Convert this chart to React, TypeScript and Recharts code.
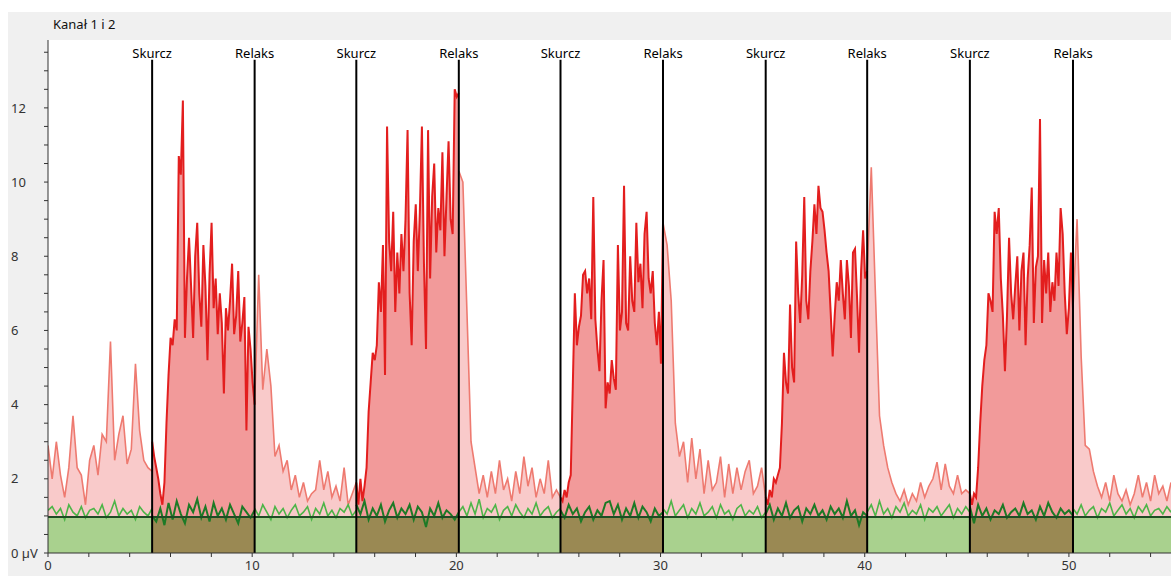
import React from 'react';
import { ComposedChart, Area, Line, XAxis, YAxis, ReferenceLine } from 'recharts';

const FONT = '"Noto Sans", "DejaVu Sans", sans-serif';

const skurczTimes = [5.1, 15.1, 25.1, 35.15, 45.15];
const relaksTimes = [10.12, 20.12, 30.12, 40.12, 50.2];
const X_MAX = 55;
const Y_MAX = 13.83;
const THRESHOLD = 0.97;
const MARKER_TOP = 13.3;

const xTicks = [0, 2, 4, 6, 8, 10, 12, 14, 16, 18, 20, 22, 24, 26, 28, 30, 32, 34, 36, 38, 40, 42, 44, 46, 48, 50, 52, 54];
const xLabelled = [0, 10, 20, 30, 40, 50];
const yTicks = [0, 0.5, 1, 1.5, 2, 2.5, 3, 3.5, 4, 4.5, 5, 5.5, 6, 6.5, 7, 7.5, 8, 8.5, 9, 9.5, 10, 10.5, 11, 11.5, 12, 12.5, 13, 13.5];
const yLabelled = [0, 2, 4, 6, 8, 10, 12];

// Channel 1 (red) — rest phases
const redRest0 = [2.9, 2.0, 3.0, 2.1, 1.5, 2.3, 3.7, 2.3, 2.1, 1.3, 2.5, 2.9, 2.1, 3.2, 3.0, 5.7, 2.5, 3.2, 3.7, 2.4, 2.8, 5.1, 3.3, 2.5, 2.3, 2.2];
const redRest1 = [4.0, 7.5, 4.4, 5.5, 4.5, 2.6, 2.9, 2.2, 2.5, 1.7, 2.1, 1.5, 1.9, 1.4, 1.6, 1.7, 2.5, 1.7, 2.2, 1.5, 1.8, 1.4, 2.3, 1.3, 1.6, 1.9];
const redRest2 = [10.3, 10.0, 6.5, 3.0, 2.3, 1.6, 2.1, 1.5, 2.2, 1.6, 2.5, 1.7, 2.0, 1.4, 2.2, 1.6, 2.6, 1.8, 2.3, 1.5, 2.0, 1.6, 2.5, 1.5, 1.7, 1.5];
const redRest3 = [8.9, 8.3, 6.8, 3.5, 2.6, 3.0, 1.9, 3.1, 2.0, 2.8, 1.6, 2.5, 1.7, 1.9, 2.6, 1.5, 2.4, 1.6, 2.3, 1.7, 2.2, 2.5, 1.6, 1.8, 2.3, 1.5];
const redRest4 = [7.6, 10.4, 7.0, 3.7, 2.9, 2.3, 1.9, 1.6, 1.4, 1.7, 1.3, 1.6, 1.4, 1.9, 1.5, 1.8, 2.0, 2.45, 1.7, 2.4, 1.8, 1.6, 2.1, 1.6, 1.7, 1.6];
const redRest5 = [6.6, 9.0, 5.3, 2.9, 2.8, 2.2, 1.8, 1.5, 1.9, 1.4, 2.1, 1.6, 1.4, 1.7, 1.3, 1.6, 2.1, 1.5, 1.9, 1.4, 2.1, 1.6, 1.8, 1.4, 1.9];

// Channel 1 (red) — contraction phases
const redAct1 = [3.0, 2.6, 2.3, 2.0, 1.6, 1.3, 1.9, 3.5, 4.8, 5.8,
  5.6, 6.3, 6.0, 10.7, 10.2, 12.2, 5.8, 7.4, 8.5, 7.2,
  5.8, 8.0, 8.9, 7.0, 6.1, 8.3, 7.2, 5.2, 7.5, 8.9,
  6.6, 7.4, 5.9, 7.0, 6.2, 4.3, 6.6, 6.0, 6.8, 7.8,
  5.9, 6.4, 7.6, 5.7, 6.2, 6.9, 3.3, 6.1, 5.5, 4.6,
  4.0];
const redAct2 = [1.9, 1.3, 2.0, 1.4, 1.8, 2.3, 3.8, 4.6, 5.4, 5.2,
  5.6, 7.3, 6.5, 8.3, 4.8, 11.5, 8.4, 7.6, 9.2, 6.5,
  8.1, 7.0, 8.6, 7.6, 9.0, 11.4, 7.0, 5.6, 8.4, 9.4,
  7.6, 9.2, 11.5, 7.8, 5.5, 11.4, 7.4, 9.6, 10.5, 8.1,
  9.3, 8.7, 10.8, 8.0, 9.6, 11.1, 9.0, 8.6, 12.5, 12.3,
  12.4];
const redAct3 = [1.5, 1.4, 1.7, 1.5, 1.9, 2.1, 4.5, 7.0, 5.6, 6.1,
  6.4, 7.5, 7.6, 7.0, 7.4, 6.3, 9.6, 6.3, 5.5, 4.9,
  6.8, 7.9, 3.9, 4.6, 4.3, 5.2, 4.7, 4.4, 8.3, 6.0,
  6.5, 9.9, 6.2, 6.0, 8.0, 6.8, 6.5, 8.9, 7.3, 7.8,
  6.6, 8.6, 9.2, 7.4, 7.0, 7.6, 6.2, 5.6, 6.5, 5.1,
  8.9];
const redAct4 = [1.5, 1.3, 1.7, 1.5, 2.0, 1.9, 2.1, 2.3, 3.5, 5.4,
  4.6, 4.3, 6.7, 5.0, 4.6, 8.4, 7.0, 6.2, 7.5, 9.6,
  6.8, 6.3, 7.6, 8.4, 9.4, 8.6, 9.9, 9.3, 9.2, 8.7,
  8.1, 7.6, 6.5, 5.3, 6.4, 7.3, 6.8, 7.9, 7.0, 6.3,
  7.9, 7.2, 5.8, 8.1, 8.2, 6.9, 5.4, 7.6, 8.7, 7.4,
  7.6];
const redAct5 = [1.6, 1.3, 1.6, 1.5, 2.3, 3.5, 4.5, 5.2, 5.6, 7.0,
  6.8, 6.5, 9.2, 8.6, 9.3, 7.4, 6.4, 4.9, 6.4, 8.5,
  7.0, 6.3, 7.2, 8.0, 6.0, 7.6, 8.1, 5.6, 7.4, 8.3,
  9.85, 6.2, 7.7, 8.0, 11.7, 6.2, 7.9, 7.0, 8.1, 6.5,
  7.3, 6.8, 8.1, 7.2, 9.3, 8.6, 7.0, 5.9, 6.6, 8.1,
  6.6];

// Channel 2 (green)
const greenRest0 = [1.15, 1.25, 1.05, 1.2, 0.9, 1.3, 1.1, 1.0, 1.25, 0.95, 1.15, 1.2, 1.05, 1.3, 0.95, 1.1, 1.4, 1.0, 1.2, 1.05, 1.15, 0.9, 1.25, 1.1, 1.0, 1.2];
const greenRest1 = [1.2, 1.0, 1.3, 1.1, 0.9, 1.25, 1.05, 1.2, 0.95, 1.15, 1.3, 1.0, 1.1, 1.25, 0.9, 1.2, 1.05, 1.35, 1.0, 1.15, 0.95, 1.2, 1.1, 1.3, 1.0, 1.15];
const greenRest2 = [1.1, 1.25, 1.0, 1.35, 1.05, 1.45, 0.95, 1.2, 1.1, 1.3, 0.9, 1.15, 1.25, 1.0, 1.3, 1.1, 0.95, 1.2, 1.05, 1.35, 1.0, 1.15, 1.25, 0.95, 1.1, 1.2];
const greenRest3 = [1.2, 1.05, 1.4, 1.0, 1.15, 1.3, 0.95, 1.2, 1.05, 1.35, 1.0, 1.1, 1.25, 0.95, 1.3, 1.05, 1.15, 0.9, 1.2, 1.3, 1.0, 1.15, 1.05, 1.25, 0.95, 1.1];
const greenRest4 = [1.1, 1.3, 1.0, 1.4, 1.05, 1.2, 0.95, 1.25, 1.1, 1.35, 1.0, 1.15, 1.05, 1.3, 0.9, 1.2, 1.1, 1.25, 1.0, 1.15, 1.3, 0.95, 1.2, 1.05, 1.25, 1.1];
const greenRest5 = [1.2, 1.05, 1.3, 1.0, 1.15, 1.25, 0.95, 1.2, 1.1, 1.35, 1.0, 1.15, 1.3, 1.05, 1.2, 0.95, 1.25, 1.1, 1.3, 1.0, 1.15, 1.2, 1.05, 1.25, 1.1];
const greenAct1 = [1.0, 0.85, 1.2, 0.75, 1.35, 0.9, 1.4, 1.05, 0.8, 1.3, 1.1, 1.45, 0.95, 1.25, 0.85, 1.35, 1.0, 1.2, 0.9, 1.3, 1.05, 0.8, 1.25, 1.1, 0.95, 1.15];
const greenAct2 = [1.3, 1.05, 1.4, 0.9, 1.2, 1.0, 1.3, 0.85, 1.15, 1.35, 0.95, 1.2, 1.05, 1.3, 0.9, 1.25, 1.1, 0.7, 1.2, 1.0, 1.35, 0.95, 1.15, 1.05, 0.9, 1.1];
const greenAct3 = [1.15, 0.95, 1.3, 1.05, 1.2, 0.85, 1.1, 1.25, 0.9, 1.15, 1.0, 1.35, 1.4, 1.05, 1.3, 0.9, 1.2, 1.0, 1.35, 0.95, 1.25, 1.1, 0.85, 1.2, 1.0, 1.1];
const greenAct4 = [1.05, 1.3, 0.9, 1.2, 1.0, 1.35, 0.95, 1.15, 1.25, 0.85, 1.2, 1.05, 1.3, 1.0, 1.15, 0.9, 1.25, 1.05, 1.2, 0.95, 1.4, 1.0, 1.15, 0.75, 1.1, 1.0];
const greenAct5 = [1.25, 0.8, 1.3, 1.0, 1.2, 0.9, 1.15, 1.05, 1.3, 0.95, 1.1, 1.2, 1.0, 1.35, 1.05, 1.15, 0.9, 1.25, 1.0, 1.35, 1.1, 0.95, 1.2, 1.05, 1.15, 1.0];

const redRest = [redRest0, redRest1, redRest2, redRest3, redRest4, redRest5];
const redAct = [redAct1, redAct2, redAct3, redAct4, redAct5];
const greenRest = [greenRest0, greenRest1, greenRest2, greenRest3, greenRest4, greenRest5];
const greenAct = [greenAct1, greenAct2, greenAct3, greenAct4, greenAct5];

const restRanges: [number, number][] = [0, ...relaksTimes].map((s, i) => [s, i < skurczTimes.length ? skurczTimes[i] : X_MAX]);
const actRanges: [number, number][] = skurczTimes.map((s, i) => [s, relaksTimes[i]]);

const seg = (vals: number[], a: number, b: number, key: string) =>
  vals.map((v, i) => ({ t: a + ((b - a) * i) / (vals.length - 1), [key]: v }));

const YTick = (props: any) => {
  const { y, payload } = props;
  const v = payload.value;
  if (!yLabelled.includes(v)) return <g />;
  return (
    <text x={3} y={y} dy="0.36em" fontSize={13} fill="#333" fontFamily={FONT} textAnchor="start">
      {v === 0 ? '0 µV' : String(v)}
    </text>
  );
};

const XTick = (props: any) => {
  const { x, payload } = props;
  const v = payload.value;
  if (!xLabelled.includes(v)) return <g />;
  return (
    <text x={x} y={558} fontSize={13} fill="#333" fontFamily={FONT} textAnchor="middle">
      {String(v)}
    </text>
  );
};

export default function App() {
  return (
    <div style={{ position: 'absolute', left: 0, top: 0, width: 1171, height: 576, background: '#fff', overflow: 'hidden' }}>
      <div style={{ position: 'absolute', left: 8, top: 12, width: 1163, height: 564, background: '#f0f0f0' }}>
        <div style={{ position: 'absolute', left: 40, top: 28, width: 1123, height: 513, background: '#fff' }} />
        <div style={{ position: 'absolute', left: 45, top: 3, fontFamily: FONT, fontSize: 13, color: '#111', lineHeight: '18px' }}>
          Kanał 1 i 2
        </div>
        <div style={{ position: 'absolute', left: 0, top: 0 }}>
          <ComposedChart width={1163} height={564} margin={{ top: 28, right: 0, bottom: 0, left: 0 }}>
            <XAxis
              type="number"
              dataKey="t"
              domain={[0, X_MAX]}
              ticks={xTicks}
              interval={0}
              allowDataOverflow
              height={23}
              tickSize={4}
              stroke="#333"
              tick={<XTick />}
            />
            <YAxis
              type="number"
              domain={[0, Y_MAX]}
              ticks={yTicks}
              interval={0}
              allowDataOverflow
              width={40}
              tickSize={4}
              stroke="#333"
              tick={<YTick />}
            />
            {restRanges.map((r, i) => (
              <Area
                key={'rr' + i}
                data={seg(redRest[i], r[0], r[1], 'rr' + i)}
                dataKey={'rr' + i}
                type="linear"
                stroke="#ee7a70"
                strokeWidth={1.6}
                fill="#f9caca"
                fillOpacity={1}
                dot={false}
                activeDot={false}
                isAnimationActive={false}
              />
            ))}
            {actRanges.map((r, i) => (
              <Area
                key={'ra' + i}
                data={seg(redAct[i], r[0], r[1], 'ra' + i)}
                dataKey={'ra' + i}
                type="linear"
                stroke="#e31e1e"
                strokeWidth={2}
                fill="#f29a9a"
                fillOpacity={1}
                dot={false}
                activeDot={false}
                isAnimationActive={false}
              />
            ))}
            {restRanges.map((r, i) => (
              <Area
                key={'gf' + i}
                data={seg([THRESHOLD, THRESHOLD], r[0], r[1], 'gf' + i)}
                dataKey={'gf' + i}
                type="linear"
                stroke="none"
                fill="#a9d18e"
                fillOpacity={1}
                dot={false}
                activeDot={false}
                isAnimationActive={false}
              />
            ))}
            {actRanges.map((r, i) => (
              <Area
                key={'gfa' + i}
                data={seg([THRESHOLD, THRESHOLD], r[0], r[1], 'gfa' + i)}
                dataKey={'gfa' + i}
                type="linear"
                stroke="none"
                fill="#9a8953"
                fillOpacity={1}
                dot={false}
                activeDot={false}
                isAnimationActive={false}
              />
            ))}
            {restRanges.map((r, i) => (
              <Line
                key={'gr' + i}
                data={seg(greenRest[i], r[0], r[1], 'gr' + i)}
                dataKey={'gr' + i}
                type="linear"
                stroke="#4db548"
                strokeWidth={1.6}
                dot={false}
                activeDot={false}
                isAnimationActive={false}
              />
            ))}
            {actRanges.map((r, i) => (
              <Line
                key={'ga' + i}
                data={seg(greenAct[i], r[0], r[1], 'ga' + i)}
                dataKey={'ga' + i}
                type="linear"
                stroke="#1d7a26"
                strokeWidth={2}
                dot={false}
                activeDot={false}
                isAnimationActive={false}
              />
            ))}
            <ReferenceLine y={THRESHOLD} stroke="#1f4d24" strokeWidth={2} />
            {skurczTimes.map((t, i) => (
              <ReferenceLine
                key={'s' + i}
                segment={[{ x: t, y: 0 }, { x: t, y: MARKER_TOP }]}
                stroke="#000"
                strokeWidth={2}
                label={{ value: 'Skurcz', position: 'top', offset: 2, fill: '#000', fontSize: 13, fontFamily: FONT }}
              />
            ))}
            {relaksTimes.map((t, i) => (
              <ReferenceLine
                key={'r' + i}
                segment={[{ x: t, y: 0 }, { x: t, y: MARKER_TOP }]}
                stroke="#000"
                strokeWidth={2}
                label={{ value: 'Relaks', position: 'top', offset: 2, fill: '#000', fontSize: 13, fontFamily: FONT }}
              />
            ))}
          </ComposedChart>
        </div>
      </div>
    </div>
  );
}
